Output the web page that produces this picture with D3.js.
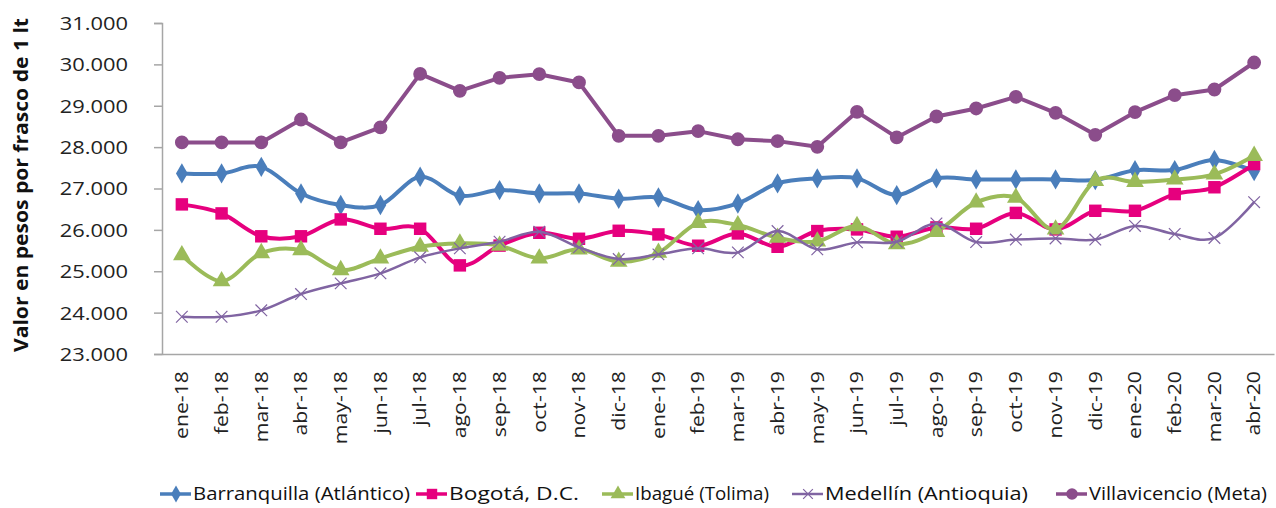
<!DOCTYPE html>
<html>
<head>
<meta charset="utf-8">
<script src="https://cdn.jsdelivr.net/npm/d3@7"></script>
<style>
  body { margin: 0; background: #fff; }
  svg { display: block; font-family: "Open Sans", "Noto Sans", sans-serif; }
  .axis path, .axis line { stroke: #a6a6a6; stroke-width: 1.5; }
  .axis text { fill: #222; font-family: "Open Sans", "Noto Sans", sans-serif; }
</style>
</head>
<body>
<svg id="chart" width="1276" height="508"></svg>
<script>
"use strict";

var months = ["ene-18", "feb-18", "mar-18", "abr-18", "may-18", "jun-18", "jul-18", "ago-18", "sep-18", "oct-18", "nov-18", "dic-18",
    "ene-19", "feb-19", "mar-19", "abr-19", "may-19", "jun-19", "jul-19", "ago-19", "sep-19", "oct-19", "nov-19", "dic-19",
    "ene-20", "feb-20", "mar-20", "abr-20"];

var barranquilla = [27365, 27365, 27524, 26880, 26600, 26600, 27283, 26824, 26961, 26880, 26880, 26752,
    26784, 26478, 26639, 27123, 27244, 27244, 26840, 27244, 27220, 27220, 27220, 27203,
    27440, 27445, 27690, 27420];
var bogota = [26616, 26398, 25845, 25845, 26253, 26027, 26027, 25142, 25620, 25930, 25785, 25978,
    25890, 25617, 25914, 25592, 25971, 26011, 25834, 26060, 26027, 26410, 26011, 26461,
    26461, 26865, 27030, 27589];
var ibague = [25390, 24760, 25440, 25512, 25029, 25311, 25592, 25673, 25620, 25311, 25529, 25230,
    25447, 26171, 26116, 25810, 25722, 26092, 25657, 25954, 26663, 26780, 26011, 27186,
    27162, 27220, 27340, 27790];
var medellin = [23900, 23900, 24055, 24449, 24707, 24949, 25336, 25553, 25713, 25954, 25577, 25295,
    25408, 25553, 25456, 25971, 25529, 25698, 25713, 26157, 25705, 25765, 25794, 25765,
    26095, 25900, 25805, 26670];
var villavicencio = [28113, 28113, 28113, 28667, 28113, 28476, 29770, 29360, 29674, 29763, 29563, 28273,
    28273, 28386, 28190, 28145, 28008, 28853, 28234, 28740, 28934, 29215, 28829, 28297,
    28845, 29256, 29393, 30045];

var yTicks = [23000, 24000, 25000, 26000, 27000, 28000, 29000, 30000, 31000];

var series = [
    { name: "Barranquilla (Atlántico)", values: barranquilla, color: "#4a7ebb", width: 4, marker: "diamond", smooth: true },
    { name: "Bogotá, D.C.", values: bogota, color: "#e6007e", width: 4, marker: "square", smooth: true },
    { name: "Ibagué (Tolima)", values: ibague, color: "#9bbb59", width: 4, marker: "triangle", smooth: true },
    { name: "Medellín (Antioquia)", values: medellin, color: "#8064a2", width: 2.5, marker: "x", smooth: true },
    { name: "Villavicencio (Meta)", values: villavicencio, color: "#8b4d8b", width: 4, marker: "circle", smooth: false }
];

var svg = d3.select("#chart");
var margin = { left: 162, right: 2, top: 23, bottom: 154 };
var width = 1276 - margin.left - margin.right;
var height = 508 - margin.top - margin.bottom;

var locale = d3.formatLocale({ decimal: ",", thousands: ".", grouping: [3], currency: ["$", ""] });
var fmt = locale.format(",");

var x = d3.scaleBand().domain(months).range([0, width]).paddingInner(0).paddingOuter(0);
var y = d3.scaleLinear().domain([23000, 31000]).range([height, 0]);
var cx = function (d) { return x(d) + x.bandwidth() / 2; };

// the reference text is a bit wider than Open Sans, stretch it
function stretch(sel, k) {
    sel.each(function () {
        var len = this.getComputedTextLength();
        d3.select(this).attr("textLength", len * k).attr("lengthAdjust", "spacingAndGlyphs");
    });
}

var g = svg.append("g").attr("transform", "translate(" + margin.left + "," + margin.top + ")");

// y axis
var yAxis = g.append("g").attr("class", "axis")
    .call(d3.axisLeft(y).tickValues(yTicks).tickFormat(fmt).tickSize(8).tickPadding(26));
yAxis.selectAll("text").style("font-size", "19px").attr("dy", "0.34em").call(stretch, 1.15);

// x axis
var xAxis = g.append("g").attr("class", "axis")
    .attr("transform", "translate(0," + height + ")")
    .call(d3.axisBottom(x).tickSize(0).tickSizeOuter(0));
xAxis.selectAll("text")
    .style("font-size", "18px")
    .style("text-anchor", "end")
    .attr("transform", "rotate(-90)")
    .attr("x", -17)
    .attr("y", 0)
    .attr("dy", "0.35em")
    .call(stretch, 1.18);

// y title
svg.append("text")
    .attr("transform", "translate(28,185) rotate(-90)")
    .attr("text-anchor", "middle")
    .style("font-size", "19px")
    .style("font-weight", "bold")
    .attr("fill", "#111")
    .attr("textLength", 334)
    .attr("lengthAdjust", "spacingAndGlyphs")
    .text("Valor en pesos por frasco de 1 lt");

function drawMarker(sel, s, size) {
    var sym;
    if (s.marker === "diamond") sym = d3.symbol(d3.symbolDiamond, size * 1.2);
    else if (s.marker === "square") sym = d3.symbol(d3.symbolSquare, size * 1.55);
    else if (s.marker === "triangle") sym = d3.symbol(d3.symbolTriangle, size * 1.35);
    else if (s.marker === "circle") sym = d3.symbol(d3.symbolCircle, size * 1.5);
    else sym = d3.symbol(d3.symbolX, size * 0.9);
    var p = sel.append("path").attr("d", sym);
    if (s.marker === "x") {
        p.attr("fill", "none").attr("stroke", s.color).attr("stroke-width", 1.2);
    } else {
        p.attr("fill", s.color);
    }
    return p;
}

series.forEach(function (s) {
    var line = d3.line()
        .x(function (d, i) { return cx(months[i]); })
        .y(function (d) { return y(d); })
        .curve(s.smooth ? d3.curveCardinal.tension(0) : d3.curveLinear);

    g.append("path")
        .datum(s.values)
        .attr("fill", "none")
        .attr("stroke", s.color)
        .attr("stroke-width", s.width)
        .attr("stroke-linejoin", "round")
        .attr("d", line);

    g.selectAll(null)
        .data(s.values)
        .enter().append("g")
        .attr("transform", function (d, i) { return "translate(" + cx(months[i]) + "," + y(d) + ")"; })
        .each(function () { drawMarker(d3.select(this), s, 100); });
});

// legend
var legendX = [160, 416, 602, 792, 1056];
var legendW = [217, 130, 134, 203, 178];
var legend = svg.append("g").attr("transform", "translate(0,494)");
series.forEach(function (s, i) {
    var item = legend.append("g").attr("transform", "translate(" + legendX[i] + ",0)");
    item.append("line")
        .attr("x1", 0).attr("x2", 31)
        .attr("stroke", s.color)
        .attr("stroke-width", s.width === 4 ? 3.5 : 2.5);
    drawMarker(item.append("g").attr("transform", "translate(16,0)"), s, 70);
    item.append("text")
        .attr("x", 33)
        .attr("dy", "0.35em")
        .style("font-size", "18px")
        .attr("fill", "#111")
        .attr("textLength", legendW[i])
        .attr("lengthAdjust", "spacingAndGlyphs")
        .text(s.name);
});
</script>
</body>
</html>
